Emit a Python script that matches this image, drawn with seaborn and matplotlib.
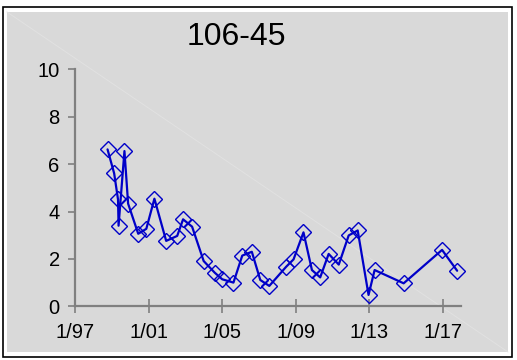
import matplotlib
matplotlib.use("Agg")
import matplotlib.pyplot as plt
import seaborn as sns
import pandas as pd
from matplotlib.patches import Rectangle
from matplotlib.lines import Line2D

# dates as decimal years
years = [1998.77, 1999.13, 1999.34, 1999.37, 1999.69, 1999.89, 2000.44, 2000.88,
         2001.32, 2001.96, 2002.56, 2002.88, 2003.37, 2004.00, 2004.60, 2005.01,
         2005.62, 2006.10, 2006.62, 2007.08, 2007.57, 2008.49, 2008.89, 2009.43,
         2009.89, 2010.34, 2010.80, 2011.35, 2011.89, 2012.38, 2012.97, 2013.30,
         2014.88, 2016.97, 2017.79]
values = [6.62, 5.61, 4.51, 3.40, 6.55, 4.33, 3.06, 3.27,
          4.54, 2.76, 2.97, 3.67, 3.36, 1.91, 1.42, 1.14,
          1.00, 2.14, 2.30, 1.11, 0.86, 1.67, 1.98, 3.12,
          1.53, 1.22, 2.21, 1.76, 2.99, 3.20, 0.48, 1.53,
          0.97, 2.38, 1.50]
tick_years = [1997, 2001, 2005, 2009, 2013, 2017]
tick_labels = ['1/97', '1/01', '1/05', '1/09', '1/13', '1/17']
title = '106-45'

sns.set_style("white")
plt.rcParams['font.family'] = ['Liberation Sans', 'DejaVu Sans']
plt.rcParams['text.color'] = 'black'
plt.rcParams['xtick.color'] = 'black'
plt.rcParams['ytick.color'] = 'black'

df = pd.DataFrame({'year': years, 'value': values})

W, H = 517, 360
fig = plt.figure(figsize=(W / 100, H / 100), dpi=100)
fig.patch.set_facecolor('white')

# slide-style frame and grey panel
fig.patches.append(Rectangle((3 / W, 1 - 357 / H), 509 / W, 350 / H, transform=fig.transFigure,
                             facecolor='white', edgecolor='black', linewidth=1.2, zorder=-3))
fig.patches.append(Rectangle((7 / W, 1 - 352 / H), 501 / W, 340 / H, transform=fig.transFigure,
                             facecolor='#d9d9d9', edgecolor='none', zorder=-2))
fig.lines.append(Line2D([7 / W, 508 / W], [1 - 12 / H, 1 - 352 / H], transform=fig.transFigure,
                        color='#e1e1e1', linewidth=0.7, zorder=-1))

ax = fig.add_axes([75 / W, 1 - 306.3 / H, 386 / W, 237 / H])
ax.patch.set_visible(False)
ax.set_zorder(2)

sns.lineplot(data=df, x='year', y='value', ax=ax, sort=False, color='#0000c8',
             linewidth=1.6, marker='D', markersize=8, markerfacecolor='none',
             markeredgecolor='#0000c8', markeredgewidth=1.0, clip_on=False)

ax.set_xlim(1997, 2018)
ax.set_ylim(0, 10)
ax.set_xticks(tick_years)
ax.set_xticklabels(tick_labels)
ax.set_yticks([0, 2, 4, 6, 8, 10])
ax.set_xlabel('')
ax.set_ylabel('')

for side in ['top', 'right']:
    ax.spines[side].set_visible(False)
for side in ['left', 'bottom']:
    ax.spines[side].set_color('#808080')
    ax.spines[side].set_linewidth(1.6)

ax.tick_params(axis='x', direction='inout', length=10, width=1.2, color='#808080',
               labelcolor='black', labelsize=14.5, pad=7, bottom=True)
ax.tick_params(axis='y', direction='out', length=5, width=1.2, color='#808080',
               labelcolor='black', labelsize=14.5, pad=6, left=True)

fig.text(236 / W, 1 - 37 / H, title, ha='center', va='center', fontsize=23, color='black')

plt.savefig('out.png', dpi=100)
